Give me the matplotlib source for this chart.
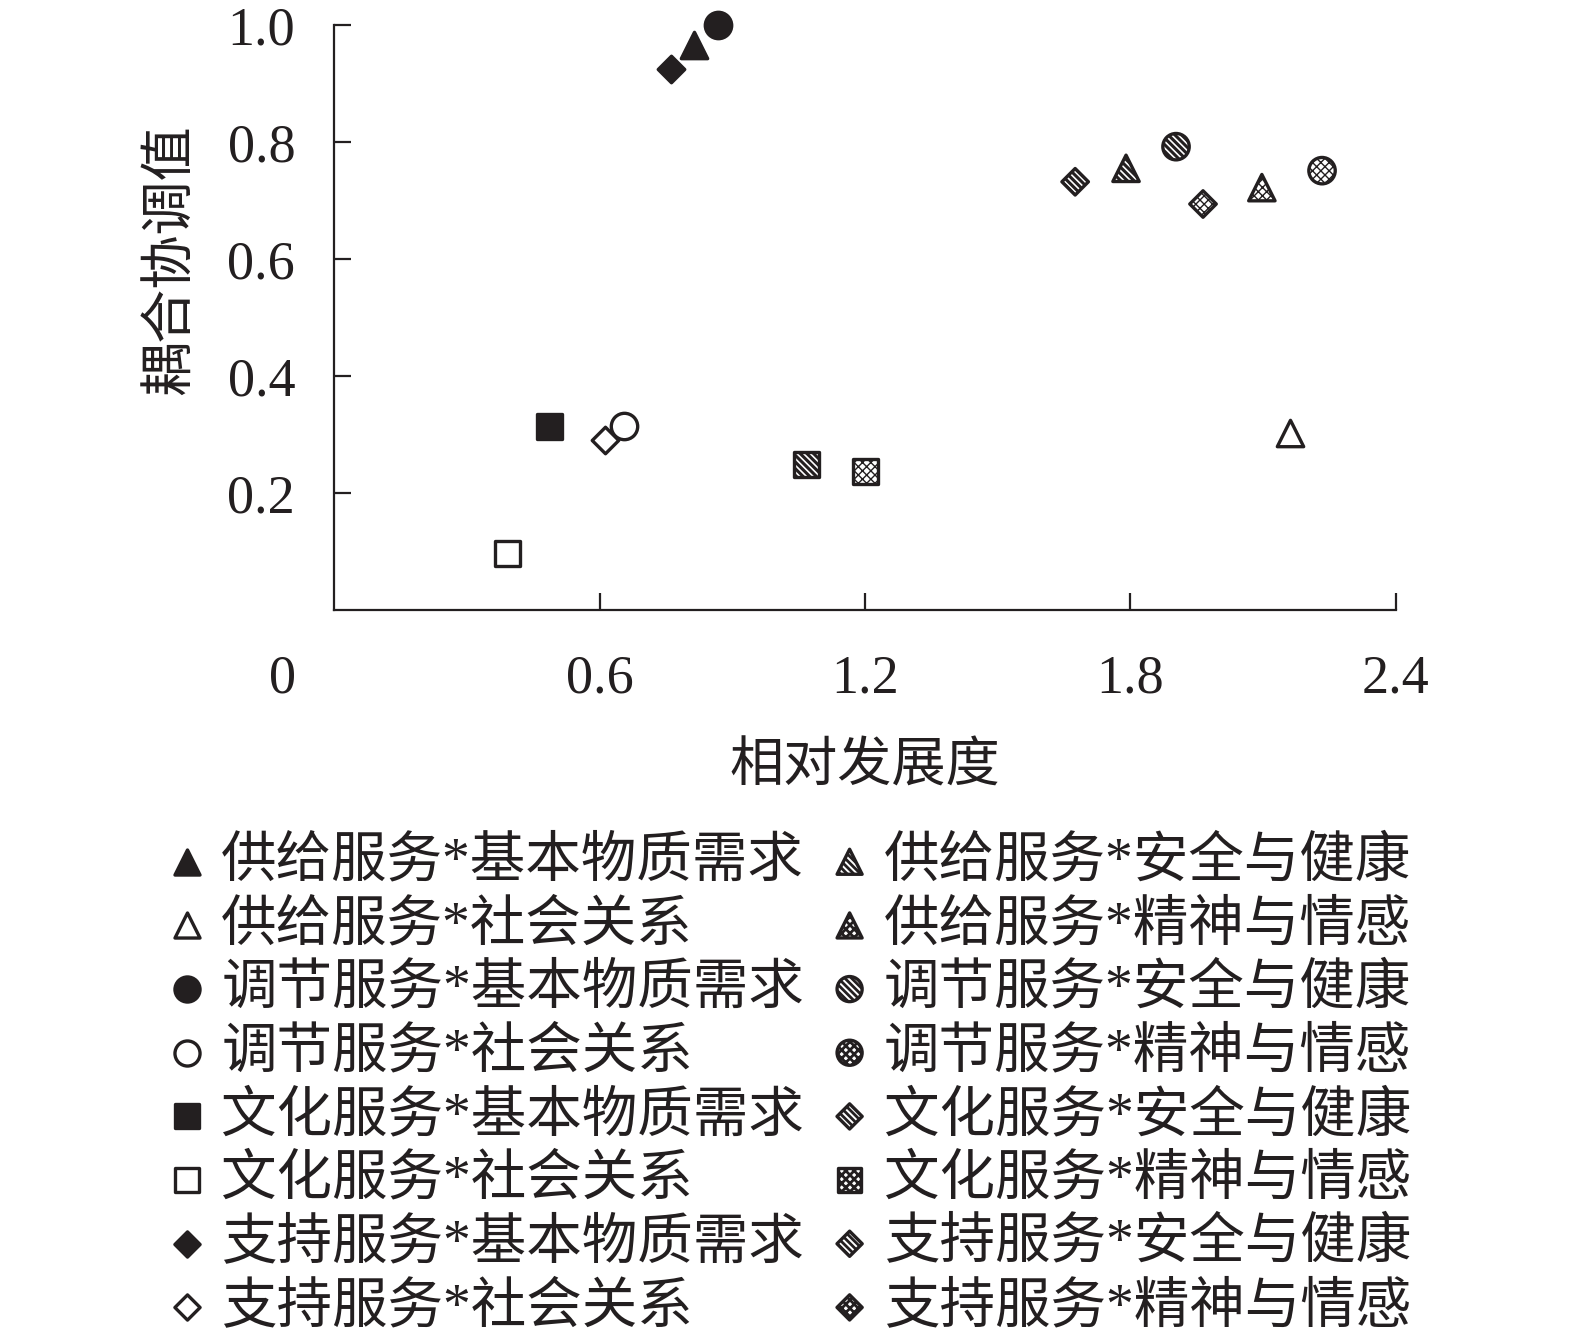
import matplotlib
matplotlib.use("Agg")
import matplotlib.pyplot as plt

plt.rcParams['font.family'] = ['Liberation Serif', 'Noto Sans CJK SC', 'DejaVu Sans']
plt.rcParams['hatch.linewidth'] = 2.0

# ---------------- data ----------------
series = ['供给服务*基本物质需求', '供给服务*社会关系', '调节服务*基本物质需求', '调节服务*社会关系',
          '文化服务*基本物质需求', '文化服务*社会关系', '支持服务*基本物质需求', '支持服务*社会关系',
          '供给服务*安全与健康', '供给服务*精神与情感', '调节服务*安全与健康', '调节服务*精神与情感',
          '文化服务*安全与健康', '文化服务*精神与情感', '支持服务*安全与健康', '支持服务*精神与情感']
x_dev = [0.814, 2.160, 0.868, 0.655,
         0.486, 0.391, 0.762, 0.612,
         1.790, 2.097, 1.903, 2.233,
         1.067, 1.202, 1.675, 1.964]
y_coup = [0.966, 0.303, 1.000, 0.315,
          0.315, 0.097, 0.924, 0.291,
          0.755, 0.722, 0.792, 0.751,
          0.248, 0.236, 0.732, 0.694]
xticks = [0.6, 1.2, 1.8, 2.4]
yticks = [0.2, 0.4, 0.6, 0.8, 1.0]
xlabel = '相对发展度'
ylabel = '耦合协调值'

# ---------------- styles ----------------
K = '#231f20'
markers = ['^', '^', 'o', 'o', 's', 's', 'D', 'D',
           '^', '^', 'o', 'o', 's', 's', 'D', 'D']
legend_markers = ['^', '^', 'o', 'o', 's', 's', 'D', 'D',
                  '^', '^', 'o', 'o', 'D', 's', 'D', 'D']
fills = [K, 'white', K, 'white', K, 'white', K, 'white',
         'white', 'white', 'white', 'white', 'white', 'white', 'white', 'white']
STRIPE = '\\' * 5
CHECK = 'xxxx'
hatches = [None] * 8 + [STRIPE, CHECK, STRIPE, CHECK, STRIPE, CHECK, STRIPE, CHECK]
hatch_lw = {STRIPE: 2.2, CHECK: 1.0, None: 1.0}
sizes = {'^': 19, 'o': 19, 's': 18, 'D': 13.5}


def style_hatch(coll, h):
    if h is not None and hasattr(coll, 'set_hatch_linewidth'):
        try:
            coll.set_hatch_linewidth(hatch_lw[h])
        except Exception:
            pass


fig = plt.figure(figsize=(15.75, 13.36), dpi=100)
ax = fig.add_axes([0.2121, 0.5434, 0.6742, 0.4379])

for i in range(len(series)):
    m = markers[i]
    c = ax.scatter([x_dev[i]], [y_coup[i]], marker=m, s=sizes[m] ** 2,
                   facecolor=fills[i], edgecolor=K, linewidths=2.4,
                   hatch=hatches[i], zorder=3, clip_on=False)
    style_hatch(c, hatches[i])

ax.set_xlim(0, 2.4)
ax.set_ylim(0, 1.0)
ax.set_xticks(xticks)
ax.set_xticklabels([f'{v:.1f}' for v in xticks])
ax.set_yticks(yticks)
ax.set_yticklabels([f'{v:.1f}' for v in yticks])
for s in ['top', 'right']:
    ax.spines[s].set_visible(False)
for s in ['left', 'bottom']:
    ax.spines[s].set_linewidth(1.6)
    ax.spines[s].set_color(K)
ax.tick_params(axis='both', direction='in', length=12, width=1.6, color=K,
               labelsize=39, labelcolor=K)
ax.tick_params(axis='x', pad=32)
ax.tick_params(axis='y', pad=28)

ax.annotate('0', xy=(-0.1175, 0), xycoords=('data', 'axes fraction'),
            xytext=(0, -32), textcoords='offset points', ha='center', va='top',
            fontsize=39, color=K, annotation_clip=False)

ax.set_xlabel(xlabel, fontsize=39, color=K)
ax.set_ylabel(ylabel, fontsize=39, color=K)
ax.xaxis.set_label_coords(0.5, -0.228)
ax.yaxis.set_label_coords(-0.128, 0.598)

handles = []
for i in range(len(series)):
    m = legend_markers[i]
    h = ax.scatter([], [], marker=m, s=(sizes[m] * 0.95) ** 2,
                   facecolor=fills[i], edgecolor=K, linewidths=2.4,
                   hatch=hatches[i])
    style_hatch(h, hatches[i])
    handles.append(h)

fig.legend(handles, series, ncol=2, loc='upper left',
           bbox_to_anchor=(0.101, 0.374), frameon=False, fontsize=40,
           handlelength=1.0, handletextpad=0.12, columnspacing=0.32,
           labelspacing=0.21, borderpad=0, borderaxespad=0, scatterpoints=1,
           labelcolor=K)

fig.savefig('out.png', dpi=100)
